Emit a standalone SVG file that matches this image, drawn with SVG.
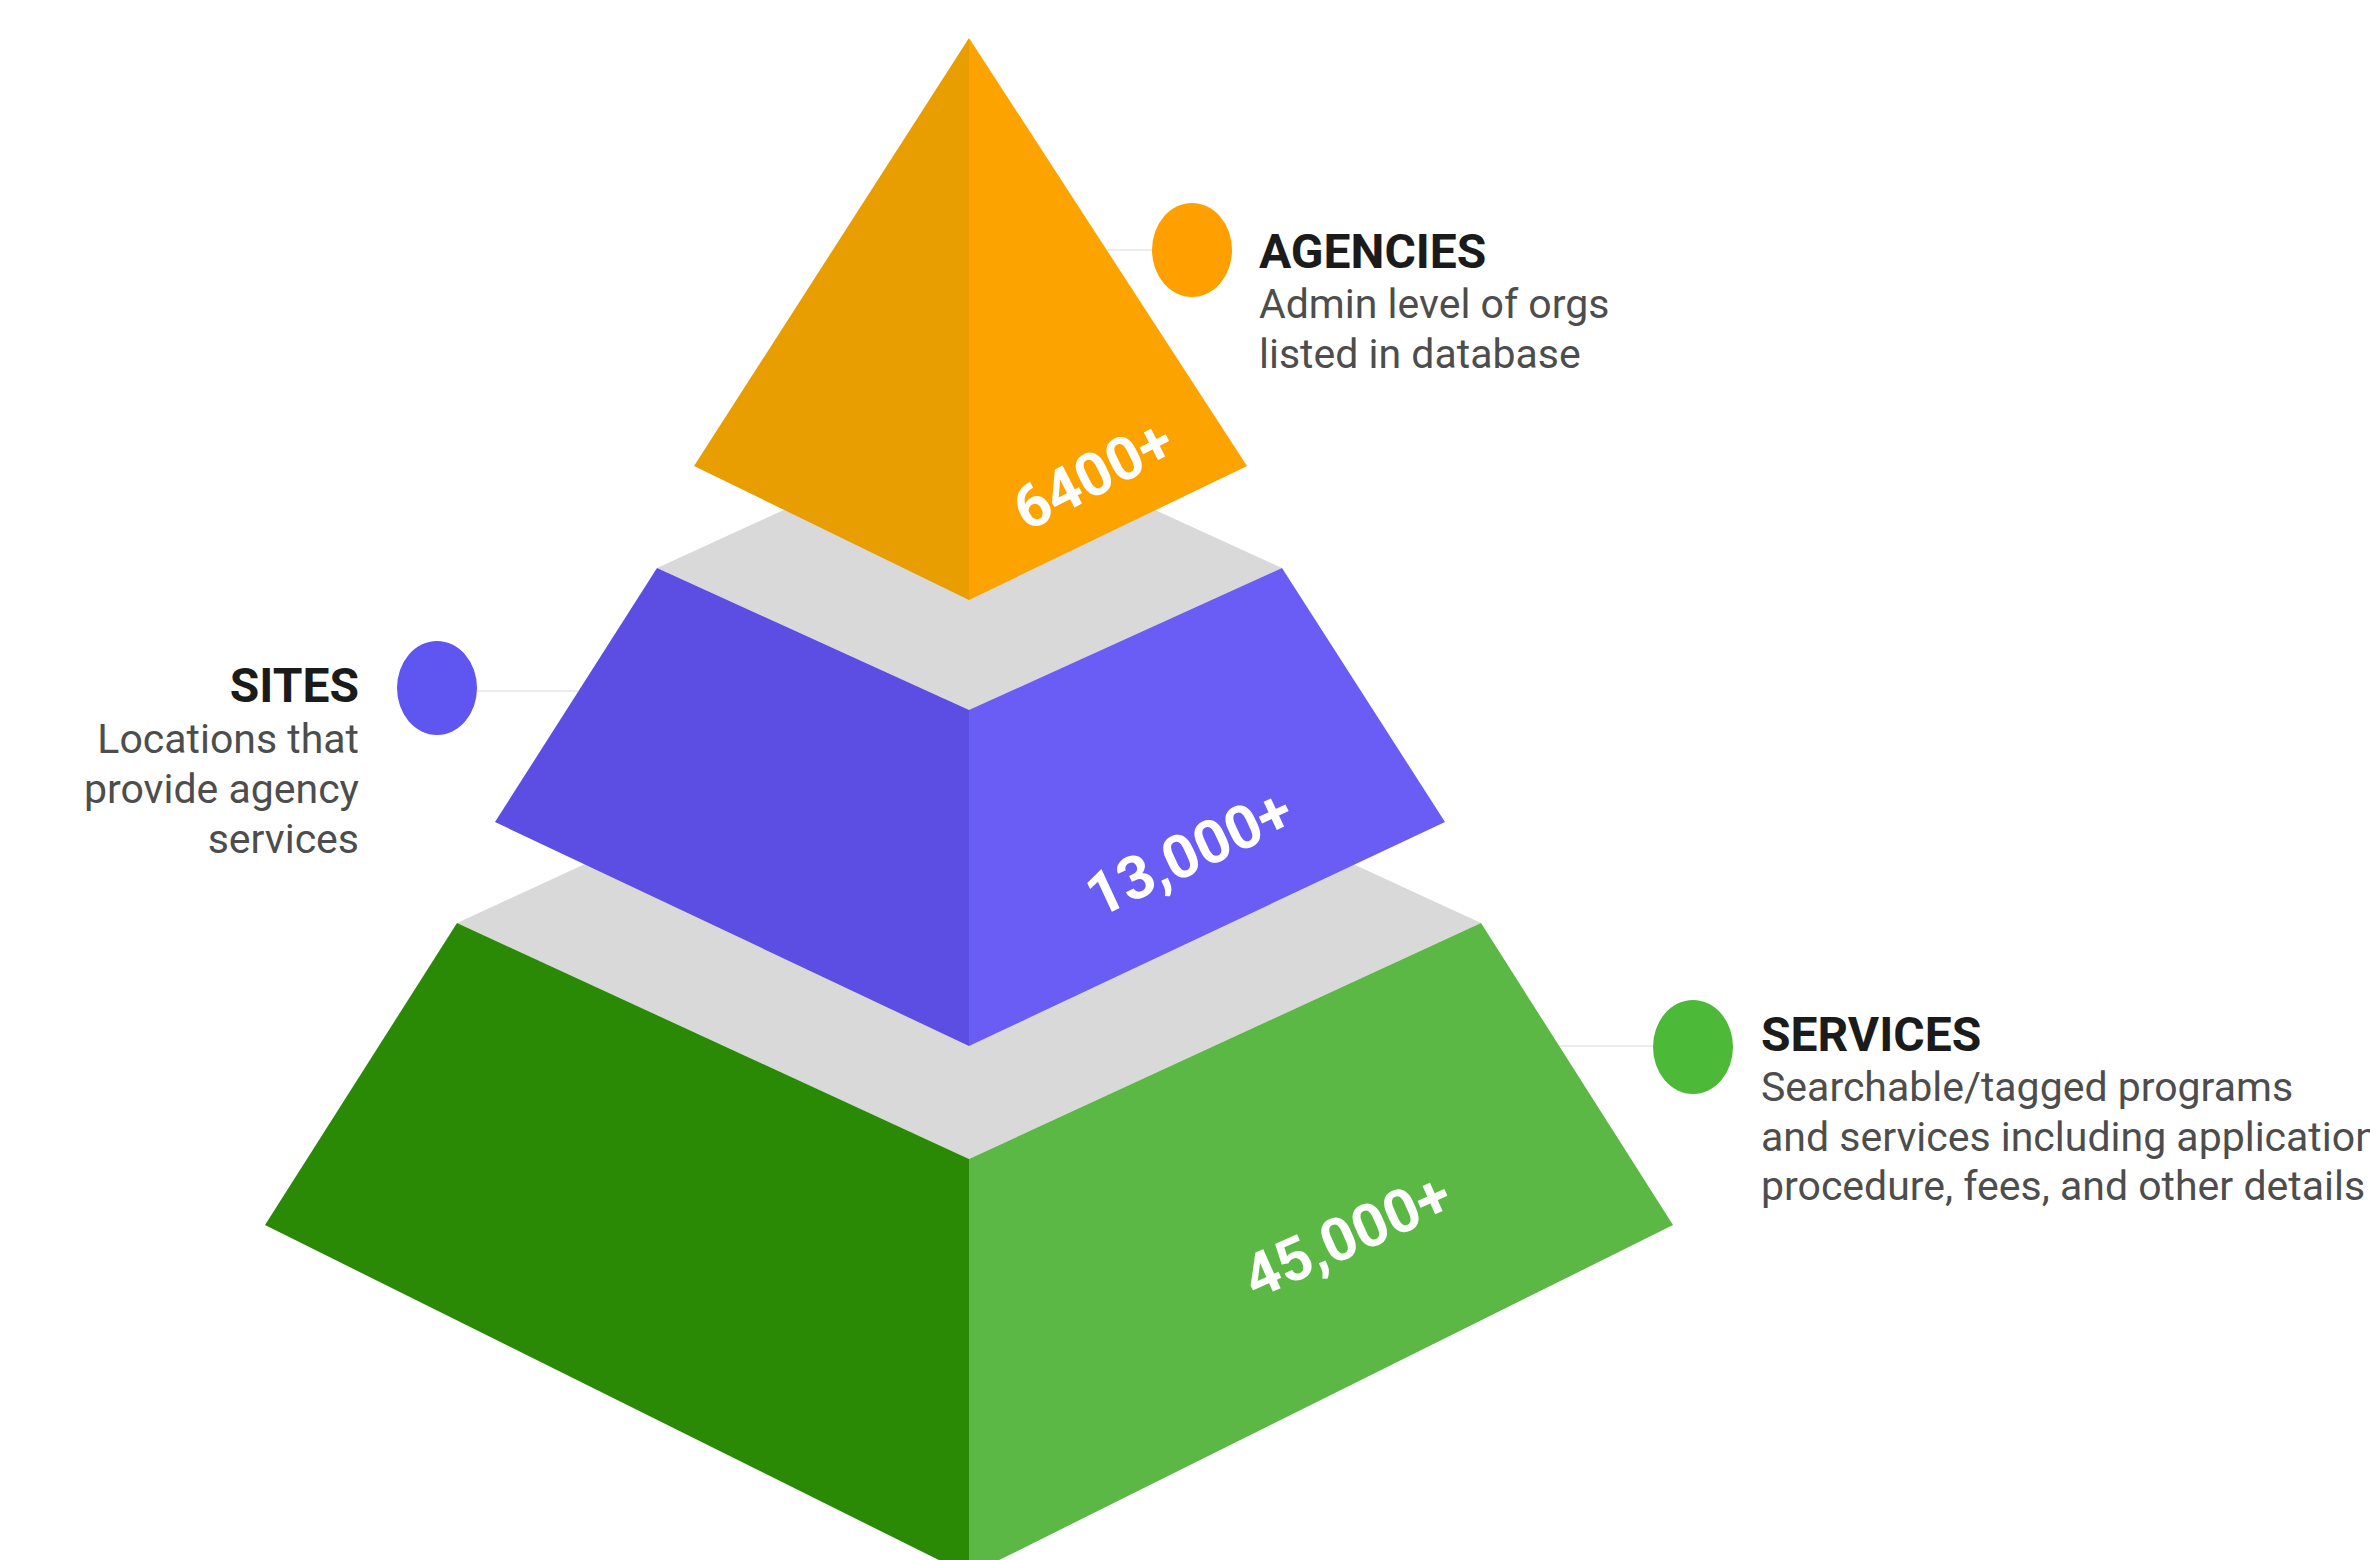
<svg xmlns="http://www.w3.org/2000/svg" width="2370" height="1560" viewBox="0 0 2370 1560">
<style>
.top{fill:#d9d9d9}
.head{font-family:Roboto,"Liberation Sans",sans-serif;font-weight:700;font-size:48px;fill:#1b1b1b}
.desc{font-family:Roboto,"Liberation Sans",sans-serif;font-weight:400;font-size:41px;fill:#4d4d4d}
.num{font-family:Roboto,"Liberation Sans",sans-serif;font-weight:700;font-size:60px;fill:#ffffff;text-anchor:middle;dominant-baseline:central}
.conn{stroke:#ececec;stroke-width:2;fill:none}
</style>
<rect width="2370" height="1560" fill="#ffffff"/>
<g id="connectors">
<line class="conn" x1="1106" y1="250" x2="1152" y2="250"/>
<line class="conn" x1="477" y1="691" x2="578" y2="691"/>
<line class="conn" x1="1559" y1="1046" x2="1653" y2="1046"/>
</g>
<g id="services-tier">
<polygon class="top" points="457,923 969,687 1481,923 969,1159"/>
<polygon fill="#2a8a05" points="457,923 969,1159 969,1575 265,1225"/>
<polygon fill="#5bb845" points="969,1159 1481,923 1673,1225 969,1575"/>
<text class="num" transform="translate(1347,1236) rotate(-24)">45,000+</text>
</g>
<g id="sites-tier">
<polygon class="top" points="657,568 969,425 1282,568 969,710"/>
<polygon fill="#5c4de3" points="657,568 969,710 969,1046 495,822"/>
<polygon fill="#6a5df5" points="969,710 1282,568 1445,822 969,1046"/>
<text class="num" transform="translate(1189,853) rotate(-25)">13,000+</text>
</g>
<g id="agencies-tier">
<polygon fill="#e89d00" points="969,38 969,600 694,466"/>
<polygon fill="#fda300" points="969,38 1247,466 969,600"/>
<text class="num" transform="translate(1093,475) rotate(-27)">6400+</text>
</g>
<g id="agencies-label">
<ellipse cx="1192" cy="250" rx="40" ry="47" fill="#ffa000"/>
<text class="head" x="1259" y="268">AGENCIES</text>
<text class="desc" x="1259" y="318">Admin level of orgs</text>
<text class="desc" x="1259" y="368">listed in database</text>
</g>
<g id="sites-label">
<ellipse cx="437" cy="688" rx="40" ry="47" fill="#5f55f0"/>
<text class="head" x="359" y="702" text-anchor="end">SITES</text>
<text class="desc" x="359" y="753" text-anchor="end">Locations that</text>
<text class="desc" x="359" y="803" text-anchor="end">provide agency</text>
<text class="desc" x="359" y="853" text-anchor="end">services</text>
</g>
<g id="services-label">
<ellipse cx="1693" cy="1047" rx="40" ry="47" fill="#4cb938"/>
<text class="head" x="1761" y="1051">SERVICES</text>
<text class="desc" x="1761" y="1101">Searchable/tagged programs</text>
<text class="desc" x="1761" y="1151">and services including application</text>
<text class="desc" x="1761" y="1200">procedure, fees, and other details</text>
</g>
</svg>
